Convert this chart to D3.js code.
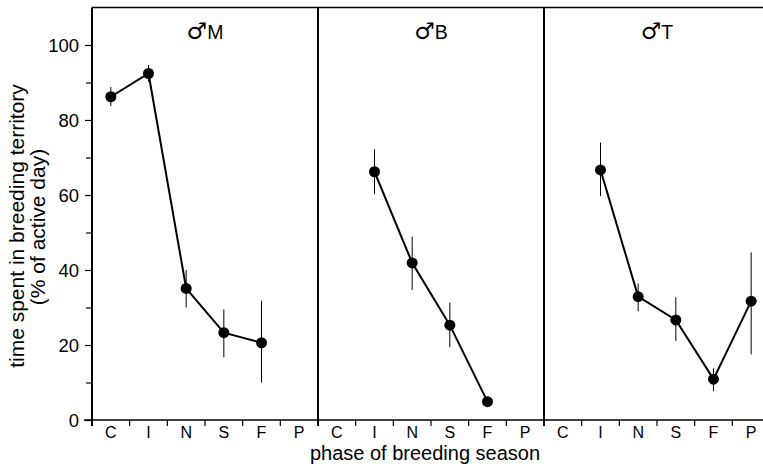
<!DOCTYPE html>
<html>
<head>
<meta charset="utf-8">
<script src="https://cdn.jsdelivr.net/npm/d3@7"></script>
<style>
  html, body { margin: 0; padding: 0; background: #fff; }
  svg { display: block; }
  text { font-family: "Liberation Sans", Arial, Helvetica, sans-serif; fill: #000; }
</style>
</head>
<body>
<svg id="chart" width="763" height="470"></svg>
<script>
// ---- data ----
const categories = ["C", "I", "N", "S", "F", "P"];
const panelSymbol = "\u2642";
const panelLetters = ["M", "B", "T"];
const yTicksMajor = [0, 20, 40, 60, 80, 100];
const yTicksMinor = [10, 30, 50, 70, 90];

const meanM = [86.2, 92.4, 35.1, 23.3, 20.6, null];
const lowM  = [83.7, 90.2, 30.0, 16.7, 10.0, null];
const highM = [88.8, 94.7, 40.0, 29.5, 31.8, null];

const meanB = [null, 66.2, 41.9, 25.3, 4.9, null];
const lowB  = [null, 60.3, 34.7, 19.4, null, null];
const highB = [null, 72.2, 48.9, 31.3, null, null];

const meanT = [null, 66.7, 32.9, 26.7, 10.9, 31.7];
const lowT  = [null, 59.7, 29.0, 21.1, 7.7, 17.5];
const highT = [null, 74.0, 36.4, 32.7, 13.8, 44.7];

const panels = [
  { letter: panelLetters[0], mean: meanM, low: lowM, high: highM },
  { letter: panelLetters[1], mean: meanB, low: lowB, high: highB },
  { letter: panelLetters[2], mean: meanT, low: lowT, high: highT }
];

// ---- layout ----
const svg = d3.select("#chart");
const plotLeft = 92, plotTop = 6, plotBottom = 420, panelW = 226;

const y = d3.scaleLinear().domain([0, 110]).range([plotBottom, plotTop + 1.5]);

// frame: top line
svg.append("line")
  .attr("x1", plotLeft).attr("x2", plotLeft + panelW * 3)
  .attr("y1", y(110)).attr("y2", y(110))
  .attr("stroke", "#000").attr("stroke-width", 1.5);

// y axis
const yAxis = svg.append("g").attr("transform", `translate(${plotLeft},0)`);
yAxis.call(d3.axisLeft(y).tickValues(yTicksMajor).tickSize(7).tickPadding(6).tickFormat(d3.format("d")));
yAxis.select(".domain").remove();
yAxis.selectAll(".tick line").attr("stroke-width", 1.2);
yAxis.selectAll(".tick text").style("font-size", "18.5px").style("font-family", "'Liberation Sans', Arial, sans-serif").attr("dy", "0.36em");
const yMinor = svg.append("g").attr("transform", `translate(${plotLeft},0)`);
yMinor.call(d3.axisLeft(y).tickValues(yTicksMinor).tickSize(6).tickFormat(""));
yMinor.select(".domain").remove();
yMinor.selectAll(".tick line").attr("stroke-width", 1.2);

// baseline (x axis line)
svg.append("line")
  .attr("x1", plotLeft - 8).attr("x2", plotLeft + panelW * 3)
  .attr("y1", y(0)).attr("y2", y(0))
  .attr("stroke", "#000").attr("stroke-width", 1.5);

panels.forEach((p, i) => {
  const x0 = plotLeft + i * panelW;
  const x = d3.scaleBand().domain(categories).range([x0, x0 + panelW]).paddingInner(0).paddingOuter(0);
  const g = svg.append("g");

  // panel left boundary
  g.append("line")
    .attr("x1", x0).attr("x2", x0)
    .attr("y1", y(110)).attr("y2", y(0) + 6)
    .attr("stroke", "#000").attr("stroke-width", 2);

  // x ticks between categories (outward)
  const bounds = categories.slice(1).map(c => x(c));
  g.selectAll(".xt").data(bounds).enter().append("line")
    .attr("x1", d => d).attr("x2", d => d)
    .attr("y1", y(0)).attr("y2", y(0) + 6)
    .attr("stroke", "#000").attr("stroke-width", 1.2);

  // x labels
  g.selectAll(".xl").data(categories).enter().append("text")
    .attr("x", d => x(d) + x.bandwidth() / 2)
    .attr("y", 438)
    .attr("text-anchor", "middle")
    .style("font-size", "16px")
    .text(d => d);

  // title
  const t = g.append("text")
    .attr("x", x0 + panelW / 2)
    .attr("y", 39)
    .attr("text-anchor", "middle")
    .style("font-size", "19.5px");
  t.append("tspan").style("font-family", "'DejaVu Sans', sans-serif").style("font-size", "23px").text(panelSymbol);
  t.append("tspan").text(p.letter);

  const pts = categories.map((c, j) => ({ c, m: p.mean[j], lo: p.low[j], hi: p.high[j] }))
    .filter(d => d.m !== null);

  // error bars
  g.selectAll(".eb").data(pts.filter(d => d.lo !== null)).enter().append("line")
    .attr("x1", d => x(d.c) + x.bandwidth() / 2)
    .attr("x2", d => x(d.c) + x.bandwidth() / 2)
    .attr("y1", d => y(d.lo)).attr("y2", d => y(d.hi))
    .attr("stroke", "#000").attr("stroke-width", 1);

  // line
  const line = d3.line().x(d => x(d.c) + x.bandwidth() / 2).y(d => y(d.m));
  g.append("path").datum(pts)
    .attr("d", line)
    .attr("fill", "none").attr("stroke", "#000").attr("stroke-width", 2);

  // points
  g.selectAll(".pt").data(pts).enter().append("circle")
    .attr("cx", d => x(d.c) + x.bandwidth() / 2)
    .attr("cy", d => y(d.m))
    .attr("r", 5.5)
    .attr("fill", "#000");
});

// axis titles
svg.append("text")
  .attr("transform", `translate(24,226) rotate(-90)`)
  .attr("text-anchor", "middle")
  .style("font-size", "21px")
  .text("time spent in breeding territory");
svg.append("text")
  .attr("transform", `translate(45,227) rotate(-90)`)
  .attr("text-anchor", "middle")
  .style("font-size", "21px")
  .text("(% of active day)");

svg.append("text")
  .attr("x", 425)
  .attr("y", 460)
  .attr("text-anchor", "middle")
  .style("font-size", "20px")
  .text("phase of breeding season");
</script>
</body>
</html>
